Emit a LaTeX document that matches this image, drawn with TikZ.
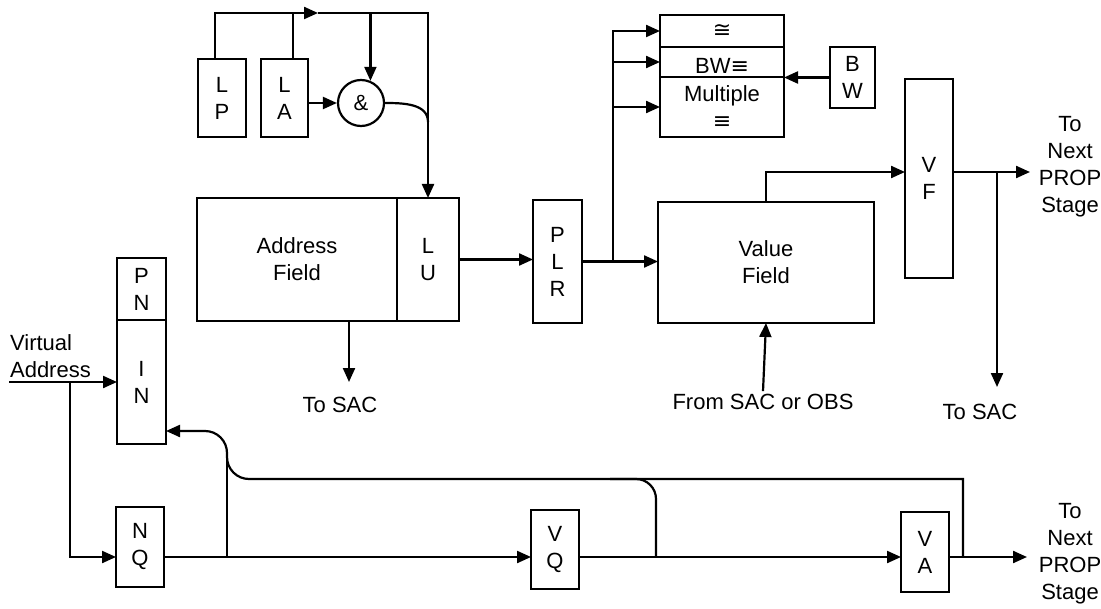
\documentclass[tikz,border=0pt]{standalone}
\usepackage{fontspec}
\setmainfont{Liberation Sans}
\newfontfamily\symfont{DejaVu Sans}
\usetikzlibrary{arrows.meta,positioning}

\begin{document}
\begin{tikzpicture}[
    x=0.5pt, y=-0.5pt,
    line width=1.1pt,
    >={Triangle[length=7pt,width=6pt]},
    every node/.style={font=\fontsize{11}{13.5}\selectfont},
    blk/.style={rectangle, draw, inner sep=0pt, outer sep=0pt, align=center},
    lbl/.style={align=center, inner sep=1pt}
]
\useasboundingbox (0,0) rectangle (1101,609);

% lookup control
\node[blk, minimum width=24pt, minimum height=39pt] (lp) at (222,98) {L\\P};
\node[blk, minimum width=23.5pt, minimum height=39pt] (la) at (284.5,98) {L\\A};
\node[circle, draw, minimum size=23pt, inner sep=0pt] (amp) at (361,103) {\&};

% address side
\node[blk, minimum width=100pt, minimum height=61.5pt] (addr) at (297,259.5) {Address\\Field};
\node[blk, minimum width=31pt, minimum height=61.5pt, right=0pt of addr] (lu) {L\\U};
\node[blk, minimum width=24.5pt, minimum height=61.5pt] (plr) at (557.5,261.5) {P\\L\\R};

% comparators
\node[blk, minimum width=62pt, minimum height=16pt] (cmpa) at (722,31) {\symfont ≅};
\node[blk, minimum width=62pt, minimum height=15pt, below=0pt of cmpa] (cmpb) {\raisebox{-6pt}[0pt][0pt]{BW{\symfont ≡}}};
\node[blk, minimum width=62pt, minimum height=30pt, below=0pt of cmpb] (cmpc) {Multiple\\{\symfont ≡}};
\node[blk, minimum width=22.5pt, minimum height=30.5pt] (bw) at (852.5,77.5) {B\\W};

% value side
\node[blk, minimum width=108pt, minimum height=60.5pt] (valf) at (766,262.5) {Value\\Field};
\node[blk, minimum width=24pt, minimum height=99.5pt] (vf) at (929,178.5) {V\\F};

% page frame and queues
\node[blk, minimum width=24.5pt, minimum height=31pt] (pn) at (141.5,289) {P\\N};
\node[blk, minimum width=24.5pt, minimum height=62pt, below=0pt of pn] (in) {I\\N};
\node[blk, minimum width=24pt, minimum height=40pt] (nq) at (140,547) {N\\Q};
\node[blk, minimum width=24pt, minimum height=39.5pt] (vq) at (555,549.5) {V\\Q};
\node[blk, minimum width=24pt, minimum height=40pt] (va) at (925,552) {V\\A};

% labels
\node[lbl] (sacA) at (340,405) {To SAC};
\node[lbl] (fromS) at (763,402) {From SAC or OBS};
\node[lbl] (sacB) at (980,412) {To SAC};
\node[lbl] (nextF) at (1070,167) {To\\Next\\PROP\\Stage};
\node[lbl] (nextA) at (1070,554) {To\\Next\\PROP\\Stage};
\node[lbl, align=left, anchor=south west, inner sep=0pt] (virt) at (9,379) {Virtual\\Address};

\coordinate (topY) at (0,13);
\coordinate (mid) at (318,13);
\coordinate (ampJ) at (0,122);
\coordinate (sacAtip) at (349,382);
\coordinate (brx) at (613,0);
\coordinate (fy) at (0,172);
\coordinate (outF) at (1030,172);
\coordinate (sacBtip) at (997,387);
\coordinate (vaIn) at (9,382);
\coordinate (vaBr) at (70,382);
\coordinate (qy) at (0,557);
\coordinate (outA) at (1027,557);
\coordinate (loopR) at (963,557);
\coordinate (loopY) at (0,479);
\coordinate (jnt) at (227,431);
\coordinate (hump) at (656,557);
\coordinate (humpE) at (610,479);

% lookup control lines
\draw[->] (lp.100) |- (mid);
\draw[->] (mid) -| (lu.north);
\draw (la.78) -- (la.78 |- topY);
\draw[->] (amp.67 |- topY) -- (amp.67);
\draw[->] (la.east |- amp.west) -- (amp.west);
\draw (amp.east) to[out=0,in=90] (lu.north |- ampJ);

% lookup to value
\draw[->] (lu.east) -- (lu.east -| plr.west);
\draw[->] (addr.south -| sacAtip) -- (sacAtip);
\draw[->] (plr.east) -- (plr.east -| valf.west);
\draw[->] (plr.east -| brx) |- (cmpa.west);
\draw[->] (brx |- cmpb.west) -- (cmpb.west);
\draw[->] (brx |- cmpc.west) -- (cmpc.west);
\draw[->] (bw.west) -- (bw.west -| cmpc.east);
\draw[->] (valf.north) |- (vf.west |- fy);
\draw[->] (vf.east |- fy) -- (outF);
\draw[->] (sacBtip |- fy) -- (sacBtip);
\draw[->] (fromS.north) -- (valf.south);

% queue path
\draw[->] (vaIn) -- (in.west |- vaIn);
\draw[->] (vaBr) |- (nq.west |- qy);
\draw[->] (nq.east |- qy) -- (vq.west |- qy);
\draw[->] (vq.east |- qy) -- (va.west |- qy);
\draw[->] (va.east |- qy) -- (outA);
\draw[->] (loopR) |- (hump |- loopY) [rounded corners=11pt] -| (jnt) -- (in.east |- jnt);
\draw (jnt |- qy) -- ([yshift=-14pt]jnt);
\draw[rounded corners=10pt] (hump) |- (humpE);

\end{tikzpicture}
\end{document}
